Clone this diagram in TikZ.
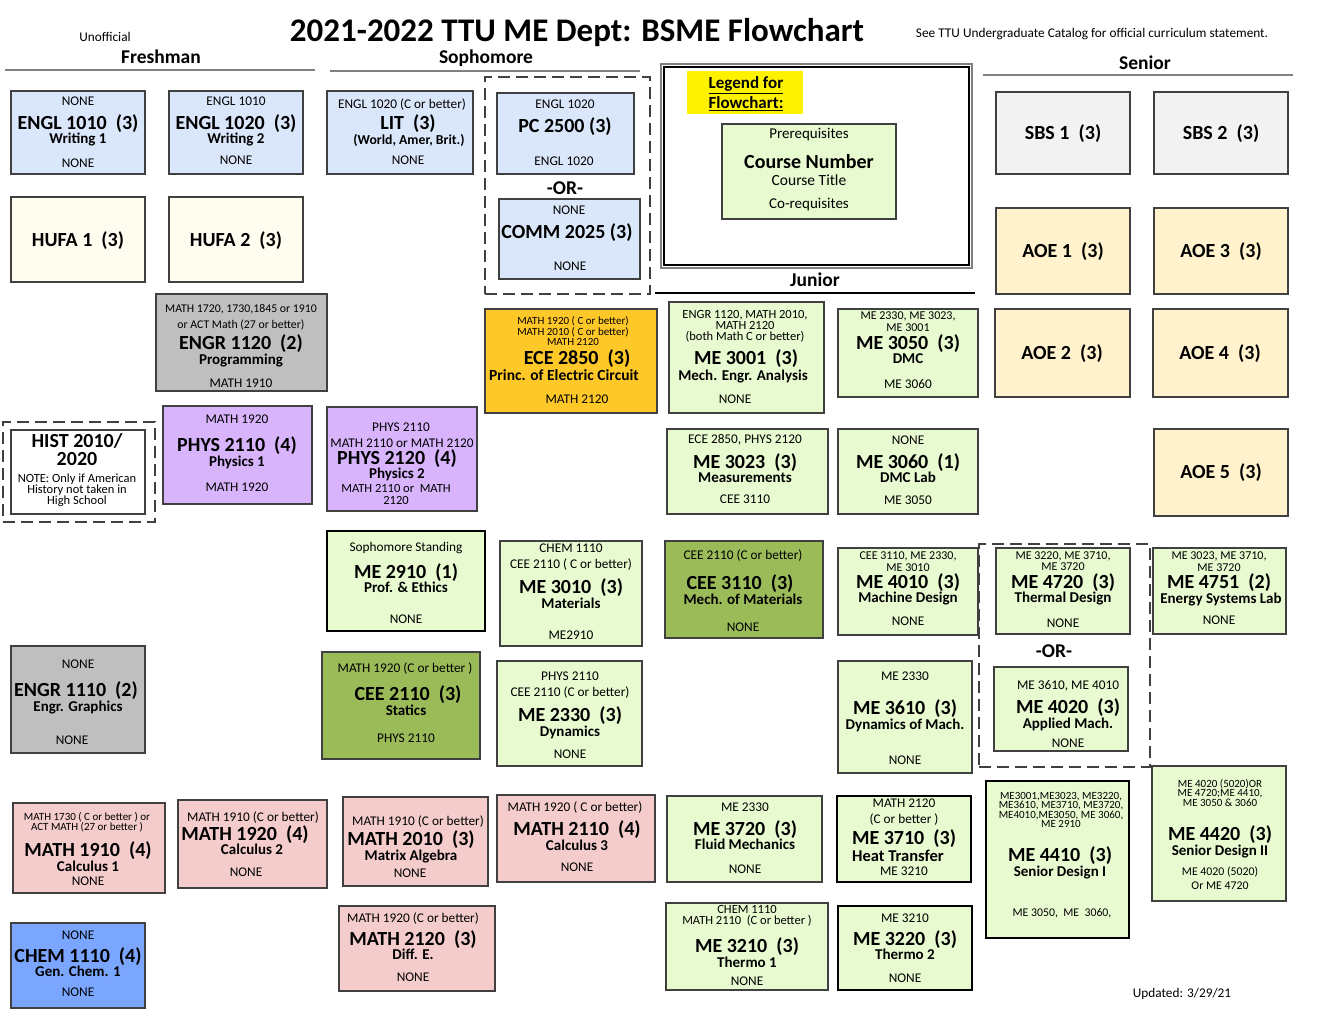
\documentclass[tikz,border=0pt]{standalone}
\usepackage{fontspec}
\setmainfont{Carlito}
\definecolor{boxline}{RGB}{64,64,64}
\definecolor{rulegray}{RGB}{128,128,128}
\definecolor{englblue}{RGB}{218,231,251}
\definecolor{chemblue}{RGB}{122,166,255}
\definecolor{hufacream}{RGB}{255,253,240}
\definecolor{engrgray}{RGB}{191,191,191}
\definecolor{sbsgray}{RGB}{242,242,242}
\definecolor{ecegold}{RGB}{255,200,41}
\definecolor{megreen}{RGB}{232,250,208}
\definecolor{ceeolive}{RGB}{155,187,89}
\definecolor{aoecream}{RGB}{255,242,204}
\definecolor{physpurple}{RGB}{216,180,252}
\definecolor{mathpink}{RGB}{244,204,204}
\tikzset{crs/.style={draw=boxline, line width=1.3pt, inner sep=0pt, rectangle},
  pre/.style={font=\fontsize{13.3}{13}\selectfont, inner sep=0pt, text height=8.6pt, text depth=0pt},
  pres/.style={font=\fontsize{11.8}{12}\selectfont, inner sep=0pt, text height=7.6pt, text depth=0pt},
  num/.style={font=\bfseries\fontsize{20}{20}\selectfont, inner sep=0pt, text height=13pt, text depth=0pt},
  ttl/.style={font=\bfseries\fontsize{15}{15}\selectfont, inner sep=0pt, text height=9.7pt, text depth=0pt},
  blk/.style={font=\fontsize{12}{11.5}\selectfont, inner sep=0pt, align=center, execute at begin node={\lineskiplimit=-20pt}},
  yr/.style={font=\bfseries\fontsize{19.5}{19.5}\selectfont, inner sep=0pt, text height=12.6pt, text depth=0pt},
  orword/.style={font=\bfseries\fontsize{19.5}{19.5}\selectfont, inner sep=0pt, text height=12.6pt, text depth=0pt},
  rule/.style={draw=rulegray, line width=2.5pt},
  dashbox/.style={draw=boxline, line width=1.3pt, dash pattern=on 12pt off 6pt, inner sep=0pt}}
\begin{document}
\begin{tikzpicture}[x=1pt,y=-1pt]
  \useasboundingbox (0,0) rectangle (1319,1009);
  % header
  \node[pre] (unoff) at (105,37) {Unofficial};
  \node[inner sep=0pt, font=\bfseries\fontsize{33}{33}\selectfont, text height=21.3pt, text depth=0pt] (title) at (577,31) {2021-2022 TTU ME Dept: BSME Flowchart};
  \node[pre] (catalog) at (1092,33) {See TTU Undergraduate Catalog for official curriculum statement.};
  \node[yr] (fresh) at (161,57) {Freshman};
  \draw[rule] (5,70) -- (315,70);
  \node[yr] (soph) at (486,57) {Sophomore};
  \draw[rule] (330,71) -- (640,71);
  \node[yr] (senior) at (1145,63) {Senior};
  \draw[rule] (983,75) -- (1293,75);
  \node[yr] (junior) at (815,280) {Junior};
  \draw[black, line width=1.3pt] (655,293) -- (975,293);

  % legend
  \node[crs, draw=rulegray, minimum width=311, minimum height=204] (legend) at (816.5,166) {};
  \node[crs, draw=black, minimum width=305, minimum height=198] (legendin) at (816.5,166) {};
  \node[fill=yellow, minimum width=116, minimum height=43, inner sep=0pt] (legendhd) at (745,92.5) {};
  \node[inner sep=0pt, align=center, font=\bfseries\fontsize{17}{20}\selectfont] (legendtx) at (746,94) {\underline{Legend for}\\\underline{Flowchart:}};
  \node[crs, fill=megreen, minimum width=174, minimum height=95] (key) at (809,171.5) {};
  \node[pre, font=\fontsize{15}{15}\selectfont, text height=9.7pt] (key-p) at (809,134) {Prerequisites};
  \node[yr, font=\bfseries\fontsize{20}{20}\selectfont, text height=13pt] (key-n) at (809,162) {Course Number};
  \node[pre, font=\fontsize{15.5}{15}\selectfont, text height=10pt] (key-t) at (809,180) {Course Title};
  \node[pre, font=\fontsize{15}{15}\selectfont, text height=9.7pt] (key-c) at (809,204) {Co-requisites};

  % freshman
  \node[crs, fill=englblue, minimum width=134, minimum height=83] (engl1010) at (78,132.5) {};
  \node[pre] (engl1010-p) at (78,101) {NONE};
  \node[num] (engl1010-n) at (78,123) {ENGL 1010~~(3)};
  \node[ttl] (engl1010-t) at (78,139) {Writing 1};
  \node[pre] (engl1010-c) at (78,163) {NONE};
  \node[crs, fill=englblue, minimum width=134, minimum height=83] (engl1020) at (236,132.5) {};
  \node[pre] (engl1020-p) at (236,101) {ENGL 1010};
  \node[num] (engl1020-n) at (236,123) {ENGL 1020~~(3)};
  \node[ttl] (engl1020-t) at (236,139) {Writing 2};
  \node[pre] (engl1020-c) at (236,160) {NONE};
  \node[crs, fill=hufacream, minimum width=134, minimum height=85] (hufa1) at (78,239.5) {};
  \node[num] (hufa1-n) at (78,240) {HUFA 1~~(3)};
  \node[crs, fill=hufacream, minimum width=134, minimum height=85] (hufa2) at (236,239.5) {};
  \node[num] (hufa2-n) at (236,240) {HUFA 2~~(3)};
  \node[crs, fill=engrgray, minimum width=171, minimum height=97] (engr1120) at (241.5,342.5) {};
  \node[pres] (engr1120-p) at (241,309) {MATH 1720, 1730,1845 or 1910};
  \node[pres] (engr1120-q) at (241,325) {or ACT Math (27 or better)};
  \node[num] (engr1120-n) at (241,343) {ENGR 1120~~(2)};
  \node[ttl] (engr1120-t) at (241,360) {Programming};
  \node[pre] (engr1120-c) at (241,383) {MATH 1910};
  \node[dashbox, minimum width=152, minimum height=100] (histgrp) at (79,472) {};
  \node[crs, fill=white, minimum width=134, minimum height=84] (hist) at (78,472) {};
  \node[num] (hist-n) at (77,441) {HIST 2010/};
  \node[num] (hist-m) at (77,459) {2020};
  \node[blk, font=\fontsize{12.5}{11}\selectfont] (hist-c) at (77,490.5) {NOTE: Only if American\\History not taken in\\High School};
  \node[crs, fill=physpurple, minimum width=149, minimum height=98] (phys2110) at (237.5,455) {};
  \node[pre] (phys2110-p) at (237,419) {MATH 1920};
  \node[num] (phys2110-n) at (237,445) {PHYS 2110~~(4)};
  \node[ttl] (phys2110-t) at (237,462) {Physics 1};
  \node[pre] (phys2110-c) at (237,487) {MATH 1920};
  \node[crs, fill=engrgray, minimum width=134, minimum height=107] (engr1110) at (78,699.5) {};
  \node[pre] (engr1110-p) at (78,664) {NONE};
  \node[num] (engr1110-n) at (76,690) {ENGR 1110~~(2)};
  \node[ttl] (engr1110-t) at (78,707) {Engr. Graphics};
  \node[pre] (engr1110-c) at (72,740) {NONE};
  \node[crs, fill=mathpink, minimum width=152, minimum height=90] (math1910) at (89,848) {};
  \node[blk, font=\fontsize{11}{10}\selectfont] (math1910-p) at (87,822) {MATH 1730 ( C or better ) or\\ACT MATH (27 or better )};
  \node[num] (math1910-n) at (88,850) {MATH 1910~~(4)};
  \node[ttl] (math1910-t) at (88,867) {Calculus 1};
  \node[pre] (math1910-c) at (88,881) {NONE};
  \node[crs, fill=mathpink, minimum width=149, minimum height=88] (math1920) at (252.5,844) {};
  \node[pre] (math1920-p) at (253,817) {MATH 1910 (C or better)};
  \node[num] (math1920-n) at (245,834) {MATH 1920~~(4)};
  \node[ttl] (math1920-t) at (252,850) {Calculus 2};
  \node[pre] (math1920-c) at (246,872) {NONE};
  \node[crs, fill=chemblue, minimum width=134, minimum height=85] (chem1110) at (78,965.5) {};
  \node[pre] (chem1110-p) at (78,935) {NONE};
  \node[num] (chem1110-n) at (78,956) {CHEM 1110~~(4)};
  \node[ttl] (chem1110-t) at (78,972) {Gen. Chem. 1};
  \node[pre] (chem1110-c) at (78,992) {NONE};

  % sophomore
  \node[crs, fill=englblue, minimum width=146, minimum height=83] (lit) at (400,132.5) {};
  \node[pre] (lit-p) at (402,104) {ENGL 1020 (C or better)};
  \node[num] (lit-n) at (408,123) {LIT~~(3)};
  \node[ttl, font=\bfseries\fontsize{13.7}{14}\selectfont, text height=8.8pt] (lit-t) at (409,140) {(World, Amer, Brit.)};
  \node[pre] (lit-c) at (408,160) {NONE};
  \node[dashbox, minimum width=165, minimum height=217] (ccgrp) at (567.5,185.5) {};
  \node[crs, fill=englblue, minimum width=137, minimum height=81] (pc2500) at (565.5,133.5) {};
  \node[pre] (pc2500-p) at (565,104) {ENGL 1020};
  \node[num] (pc2500-n) at (565,126) {PC 2500 (3)};
  \node[pre] (pc2500-c) at (564,161) {ENGL 1020};
  \node[orword] (or1) at (565,188) {-OR-};
  \node[crs, fill=englblue, minimum width=141, minimum height=80] (comm2025) at (569.5,239) {};
  \node[pre] (comm2025-p) at (569,210) {NONE};
  \node[num] (comm2025-n) at (567,232) {COMM 2025 (3)};
  \node[pre] (comm2025-c) at (570,266) {NONE};
  \node[crs, fill=ecegold, minimum width=172, minimum height=104] (ece2850) at (571,361) {};
  \node[blk, font=\fontsize{11}{10.5}\selectfont] (ece2850-p) at (573,331.5) {MATH 1920 ( C or better)\\MATH 2010 ( C or better)\\MATH 2120};
  \node[num] (ece2850-n) at (577,358) {ECE 2850~~(3)};
  \node[ttl, font=\bfseries\fontsize{15.5}{15}\selectfont] (ece2850-t) at (564,376) {Princ. of Electric Circuit};
  \node[pre] (ece2850-c) at (577,399) {MATH 2120};
  \node[crs, fill=physpurple, minimum width=150, minimum height=104] (phys2120) at (402,459) {};
  \node[pre] (phys2120-p) at (401,427) {PHYS 2110};
  \node[pre] (phys2120-q) at (402,443) {MATH 2110 or MATH 2120};
  \node[num] (phys2120-n) at (397,458) {PHYS 2120~~(4)};
  \node[ttl] (phys2120-t) at (397,474) {Physics 2};
  \node[blk, font=\fontsize{12.5}{11.5}\selectfont] (phys2120-c) at (396,494.5) {MATH 2110 or~ MATH\\2120};
  \node[crs, draw=black, fill=megreen, minimum width=158, minimum height=100] (me2910) at (406,581) {};
  \node[pre] (me2910-p) at (406,547) {Sophomore Standing};
  \node[num] (me2910-n) at (406,572) {ME 2910~~(1)};
  \node[ttl] (me2910-t) at (406,588) {Prof. \& Ethics};
  \node[pre] (me2910-c) at (406,619) {NONE};
  \node[crs, fill=megreen, minimum width=142, minimum height=105] (me3010) at (571,593.5) {};
  \node[pre] (me3010-p) at (571,548) {CHEM 1110};
  \node[pre] (me3010-q) at (571,564) {CEE 2110 ( C or better)};
  \node[num] (me3010-n) at (571,587) {ME 3010~~(3)};
  \node[ttl] (me3010-t) at (571,604) {Materials};
  \node[pre] (me3010-c) at (571,635) {ME2910};
  \node[crs, fill=ceeolive, minimum width=158, minimum height=107] (cee2110) at (401,705.5) {};
  \node[pre] (cee2110-p) at (405,668) {MATH 1920 (C or better )};
  \node[num] (cee2110-n) at (408,694) {CEE 2110~~(3)};
  \node[ttl] (cee2110-t) at (406,711) {Statics};
  \node[pre] (cee2110-c) at (406,738) {PHYS 2110};
  \node[crs, fill=megreen, minimum width=145, minimum height=105] (me2330) at (569.5,713.5) {};
  \node[pre] (me2330-p) at (570,676) {PHYS 2110};
  \node[pre] (me2330-q) at (570,692) {CEE 2110 (C or better)};
  \node[num] (me2330-n) at (570,714.5) {ME 2330~~(3)};
  \node[ttl] (me2330-t) at (570,732) {Dynamics};
  \node[pre] (me2330-c) at (570,754) {NONE};
  \node[crs, fill=mathpink, minimum width=145, minimum height=89] (math2010) at (415.5,841.5) {};
  \node[pre] (math2010-p) at (418,821) {MATH 1910 (C or better)};
  \node[num] (math2010-n) at (411,839) {MATH 2010~~(3)};
  \node[ttl] (math2010-t) at (411,856) {Matrix Algebra};
  \node[pre] (math2010-c) at (410,873) {NONE};
  \node[crs, fill=mathpink, minimum width=158, minimum height=87] (math2110) at (576,838.5) {};
  \node[pre] (math2110-p) at (575,807) {MATH 1920 ( C or better)};
  \node[num] (math2110-n) at (577,829) {MATH 2110~~(4)};
  \node[ttl] (math2110-t) at (577,846) {Calculus 3};
  \node[pre] (math2110-c) at (577,867) {NONE};
  \node[crs, fill=mathpink, minimum width=156, minimum height=85] (math2120) at (417,948.5) {};
  \node[pre] (math2120-p) at (413,918) {MATH 1920 (C or better)};
  \node[num] (math2120-n) at (413,939) {MATH 2120~~(3)};
  \node[ttl] (math2120-t) at (413,955) {Diff. E.};
  \node[pre] (math2120-c) at (413,977) {NONE};

  % junior
  \node[crs, fill=megreen, minimum width=155, minimum height=111] (me3001) at (746.5,357.5) {};
  \node[blk, font=\fontsize{12.5}{11}\selectfont] (me3001-p) at (745,326.5) {ENGR 1120, MATH 2010,\\MATH 2120\\(both Math C or better)};
  \node[num] (me3001-n) at (746,358) {ME 3001~~(3)};
  \node[ttl] (me3001-t) at (743,376) {Mech. Engr. Analysis};
  \node[pre] (me3001-c) at (735,399) {NONE};
  \node[crs, fill=megreen, minimum width=140, minimum height=88] (me3050) at (908,353) {};
  \node[blk] (me3050-p) at (908,321.5) {ME 2330, ME 3023,\\ME 3001};
  \node[num] (me3050-n) at (908,343) {ME 3050~~(3)};
  \node[ttl] (me3050-t) at (908,359) {DMC};
  \node[pre] (me3050-c) at (908,384) {ME 3060};
  \node[crs, fill=megreen, minimum width=161, minimum height=85] (me3023) at (747.5,471.5) {};
  \node[pre] (me3023-p) at (745,439) {ECE 2850, PHYS 2120};
  \node[num] (me3023-n) at (745,462) {ME 3023~~(3)};
  \node[ttl] (me3023-t) at (745,478) {Measurements};
  \node[pre] (me3023-c) at (745,499) {CEE 3110};
  \node[crs, fill=megreen, minimum width=140, minimum height=85] (me3060) at (908,471.5) {};
  \node[pre] (me3060-p) at (908,440) {NONE};
  \node[num] (me3060-n) at (908,462) {ME 3060~~(1)};
  \node[ttl] (me3060-t) at (908,478) {DMC Lab};
  \node[pre] (me3060-c) at (908,500) {ME 3050};
  \node[crs, fill=ceeolive, minimum width=158, minimum height=97] (cee3110) at (744,589.5) {};
  \node[pre] (cee3110-p) at (743,555) {CEE 2110 (C or better)};
  \node[num] (cee3110-n) at (740,583) {CEE 3110~~(3)};
  \node[ttl] (cee3110-t) at (743,600) {Mech. of Materials};
  \node[pre] (cee3110-c) at (743,627) {NONE};
  \node[crs, fill=megreen, minimum width=140, minimum height=87] (me4010) at (908,591.5) {};
  \node[blk] (me4010-p) at (908,561.5) {CEE 3110, ME 2330,\\ME 3010};
  \node[num] (me4010-n) at (908,582) {ME 4010~~(3)};
  \node[ttl] (me4010-t) at (908,598) {Machine Design};
  \node[pre] (me4010-c) at (908,621) {NONE};
  \node[crs, fill=megreen, minimum width=134, minimum height=112] (me3610) at (905,717) {};
  \node[pre] (me3610-p) at (905,676) {ME 2330};
  \node[num] (me3610-n) at (905,708) {ME 3610~~(3)};
  \node[ttl] (me3610-t) at (905,725) {Dynamics of Mach.};
  \node[pre] (me3610-c) at (905,760) {NONE};
  \node[crs, fill=megreen, minimum width=155, minimum height=86] (me3720) at (744.5,839) {};
  \node[pre] (me3720-p) at (745,807) {ME 2330};
  \node[num] (me3720-n) at (745,829) {ME 3720~~(3)};
  \node[ttl] (me3720-t) at (745,845) {Fluid Mechanics};
  \node[pre] (me3720-c) at (745,869) {NONE};
  \node[crs, draw=black, fill=megreen, minimum width=134, minimum height=86] (me3710) at (904,839) {};
  \node[pre] (me3710-p) at (904,803) {MATH 2120};
  \node[pre] (me3710-q) at (904,819) {(C or better )};
  \node[num] (me3710-n) at (904,838) {ME 3710~~(3)};
  \node[ttl, font=\bfseries\fontsize{16.5}{16}\selectfont, text height=10.6pt] (me3710-t) at (898,856) {Heat Transfer};
  \node[pre] (me3710-c) at (904,871) {ME 3210};
  \node[crs, fill=megreen, minimum width=162, minimum height=87] (me3210) at (747,946.5) {};
  \node[blk, font=\fontsize{12.5}{11.5}\selectfont] (me3210-p) at (747,916) {CHEM 1110\\MATH 2110~ (C or better )};
  \node[num] (me3210-n) at (747,946) {ME 3210~~(3)};
  \node[ttl] (me3210-t) at (747,963) {Thermo 1};
  \node[pre] (me3210-c) at (747,981) {NONE};
  \node[crs, draw=black, fill=megreen, minimum width=134, minimum height=84] (me3220) at (905,948) {};
  \node[pre] (me3220-p) at (905,918) {ME 3210};
  \node[num] (me3220-n) at (905,939) {ME 3220~~(3)};
  \node[ttl] (me3220-t) at (905,955) {Thermo 2};
  \node[pre] (me3220-c) at (905,978) {NONE};

  % senior
  \node[crs, fill=sbsgray, minimum width=134, minimum height=82] (sbs1) at (1063,133) {};
  \node[num] (sbs1-n) at (1063,133) {SBS 1~~(3)};
  \node[crs, fill=sbsgray, minimum width=134, minimum height=82] (sbs2) at (1221,133) {};
  \node[num] (sbs2-n) at (1221,133) {SBS 2~~(3)};
  \node[crs, fill=aoecream, minimum width=134, minimum height=86] (aoe1) at (1063,251) {};
  \node[num] (aoe1-n) at (1063,251) {AOE 1~~(3)};
  \node[crs, fill=aoecream, minimum width=134, minimum height=86] (aoe3) at (1221,251) {};
  \node[num] (aoe3-n) at (1221,251) {AOE 3~~(3)};
  \node[crs, fill=aoecream, minimum width=135, minimum height=88] (aoe2) at (1062.5,353) {};
  \node[num] (aoe2-n) at (1062,353) {AOE 2~~(3)};
  \node[crs, fill=aoecream, minimum width=135, minimum height=88] (aoe4) at (1220.5,353) {};
  \node[num] (aoe4-n) at (1220,353) {AOE 4~~(3)};
  \node[crs, fill=aoecream, minimum width=134, minimum height=87] (aoe5) at (1221,472.5) {};
  \node[num] (aoe5-n) at (1221,472) {AOE 5~~(3)};
  \node[dashbox, minimum width=171, minimum height=223] (elecgrp) at (1064.5,655.5) {};
  \node[crs, fill=megreen, minimum width=134, minimum height=86] (me4720) at (1063,591) {};
  \node[blk] (me4720-p) at (1063,561) {ME 3220, ME 3710,\\ME 3720};
  \node[num] (me4720-n) at (1063,582) {ME 4720~~(3)};
  \node[ttl] (me4720-t) at (1063,598) {Thermal Design};
  \node[pre] (me4720-c) at (1063,623) {NONE};
  \node[orword] (or2) at (1054,651) {-OR-};
  \node[crs, fill=megreen, minimum width=134, minimum height=84] (me4020) at (1061,709) {};
  \node[pre] (me4020-p) at (1068,685) {ME 3610, ME 4010};
  \node[num] (me4020-n) at (1068,707) {ME 4020~~(3)};
  \node[ttl] (me4020-t) at (1068,724) {Applied Mach.};
  \node[pre] (me4020-c) at (1068,743) {NONE};
  \node[crs, fill=megreen, minimum width=133, minimum height=86] (me4751) at (1219.5,591) {};
  \node[blk] (me4751-p) at (1219,561.5) {ME 3023, ME 3710,\\ME 3720};
  \node[num] (me4751-n) at (1219,582) {ME 4751~~(2)};
  \node[ttl] (me4751-t) at (1221,599) {Energy Systems Lab};
  \node[pre] (me4751-c) at (1219,620) {NONE};
  \node[crs, draw=black, fill=megreen, minimum width=143, minimum height=157] (me4410) at (1057.5,859.5) {};
  \node[blk, font=\fontsize{11}{9.5}\selectfont] (me4410-p) at (1061,810) {ME3001,ME3023, ME3220,\\ME3610, ME3710, ME3720,\\ME4010,ME3050, ME 3060,\\ME 2910};
  \node[num] (me4410-n) at (1060,855) {ME 4410~~(3)};
  \node[ttl] (me4410-t) at (1060,872) {Senior Design I};
  \node[pres] (me4410-c) at (1062,913) {ME 3050,~ ME~ 3060,};
  \node[crs, fill=megreen, minimum width=134, minimum height=135] (me4420) at (1219,833.5) {};
  \node[blk, font=\fontsize{11}{9.5}\selectfont] (me4420-p) at (1220,793) {ME 4020 (5020)OR\\ME 4720;ME 4410,\\ME 3050 \& 3060};
  \node[num] (me4420-n) at (1220,834) {ME 4420~~(3)};
  \node[ttl] (me4420-t) at (1220,851) {Senior Design II};
  \node[pres] (me4420-c) at (1220,872) {ME 4020 (5020)};
  \node[pres] (me4420-d) at (1220,886) {Or ME 4720};
  \node[pre] (updated) at (1182,993) {Updated: 3/29/21};
\end{tikzpicture}
\end{document}
